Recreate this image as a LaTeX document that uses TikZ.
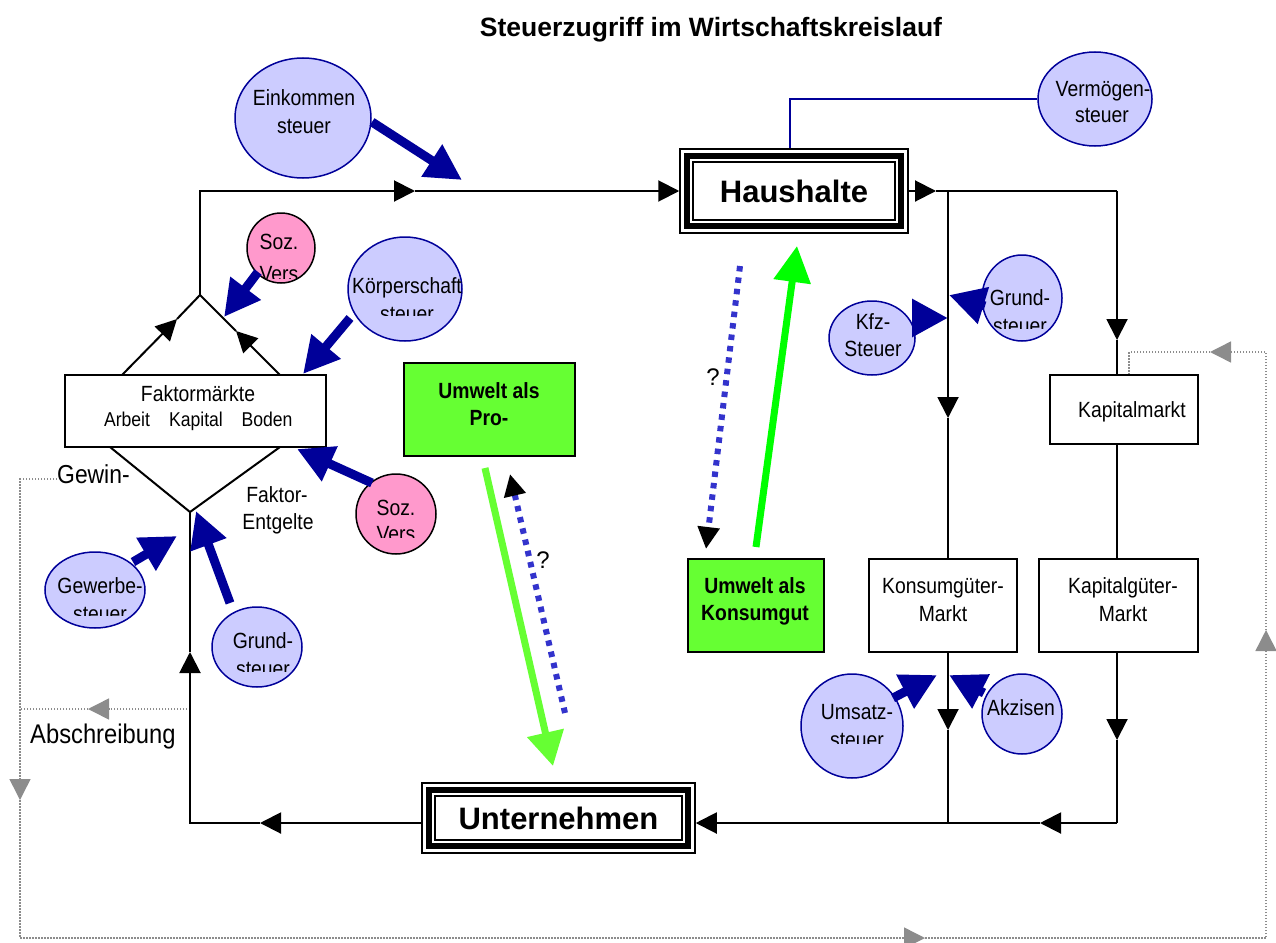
\documentclass[tikz,border=0pt]{standalone}
\usepackage{fontspec}
\setmainfont{Liberation Sans}
\newfontfamily\nar[FakeStretch=0.88]{Liberation Sans}
\usetikzlibrary{shapes.geometric,arrows.meta,calc}
\definecolor{navy}{HTML}{000099}
\definecolor{lav}{HTML}{CCCCFF}
\definecolor{pinkc}{HTML}{FF99CC}
\definecolor{lgreen}{HTML}{66FF33}
\definecolor{bgreen}{HTML}{00FF00}
\definecolor{dblue}{HTML}{3333CC}
\definecolor{dgray}{HTML}{8C8C8C}
\begin{document}
\begin{tikzpicture}[x=1pt,y=-1pt,
  flow/.style={line width=2pt, draw=black},
  tipb/.style={-{Triangle[length=21pt,width=21pt]}},
  taxc/.style={ellipse, draw=navy, fill=lav, line width=1.5pt, inner sep=0pt},
  pinkcirc/.style={ellipse, draw=black, fill=pinkc, line width=1.5pt, inner sep=0pt},
  taxarr/.style={draw=navy, line width=9pt, -{Triangle[length=36pt,width=36pt]}},
  lab/.style={anchor=base, inner sep=0pt, font=\nar\fontsize{22}{26}\selectfont},
  blab/.style={anchor=base, inner sep=0pt, font=\nar\bfseries\fontsize{22}{26}\selectfont},
  wbox/.style={draw=black, line width=1.5pt, fill=white, inner sep=0pt},
  gbox/.style={draw=black, line width=2pt, fill=lgreen, inner sep=0pt},
  gdot/.style={draw=dgray, line width=1.5pt, dash pattern=on 1.5pt off 1.5pt},
  gtip/.style={-{Triangle[length=21pt,width=21pt]}},
  bdot/.style={draw=dblue, line width=6pt, dash pattern=on 5.5pt off 6pt, -{Triangle[length=22pt,width=21pt,color=black]}},
  bigbox/.style={draw=black, line width=1.5pt, fill=white, inner sep=0pt, font=\bfseries\fontsize{31}{36}\selectfont}
]
\useasboundingbox (0,0) rectangle (1276,942);

% title
\node[anchor=base, inner sep=0pt, font=\bfseries\fontsize{26.5}{30}\selectfont] (title) at (711,37) {Steuerzugriff im Wirtschaftskreislauf};

% ---------- gray dotted flows ----------
\coordinate (g0) at (57,479);
\coordinate (g1) at (20,479);
\coordinate (g2) at (20,800);
\coordinate (g3) at (20,938);
\coordinate (g4) at (925,938);
\coordinate (g5) at (1266,938);
\coordinate (g6) at (1266,630);
\coordinate (g7) at (1266,352);
\coordinate (g8) at (1210,352);
\coordinate (g9) at (1129,352);
\coordinate (h0) at (190,709);
\coordinate (h1) at (88,709);
\coordinate (h2) at (20,709);

% ---------- main boxes ----------
\node[bigbox, minimum width=228pt, minimum height=84pt] (hh) at (794,191) {Haushalte};
\draw[line width=6pt] ($(hh.north west)+(7.5,7.5)$) rectangle ($(hh.south east)+(-7.5,-7.5)$);
\draw[line width=2pt] ($(hh.north west)+(14,14)$) rectangle ($(hh.south east)+(-14,-14)$);

\node[bigbox, minimum width=273pt, minimum height=70pt] (un) at (558.5,818) {Unternehmen};
\draw[line width=6pt] ($(un.north west)+(7.5,7.5)$) rectangle ($(un.south east)+(-7.5,-7.5)$);
\draw[line width=2pt] ($(un.north west)+(14,14)$) rectangle ($(un.south east)+(-14,-14)$);

\node[wbox, minimum width=261pt, minimum height=72pt] (fm) at (195.5,411) {};
\node[lab] (fm-1) at (198,401) {Faktormärkte};
\node[lab, font=\nar\fontsize{20}{24}\selectfont] (fm-2) at (127,426) {Arbeit};
\node[lab, font=\nar\fontsize{20}{24}\selectfont] (fm-3) at (196,426) {Kapital};
\node[lab, font=\nar\fontsize{20}{24}\selectfont] (fm-4) at (267,426) {Boden};

\node[wbox, minimum width=148pt, minimum height=69pt] (km) at (1124,409.5) {};
\node[lab] (km-1) at (1132,417) {Kapitalmarkt};

\node[wbox, minimum width=148pt, minimum height=93pt] (kgm) at (943,605.5) {};
\node[lab] (kgm-1) at (943,593) {Konsumgüter-};
\node[lab] (kgm-2) at (943,621) {Markt};

\node[wbox, minimum width=159pt, minimum height=93pt] (kg) at (1118.5,605.5) {};
\node[lab] (kg-1) at (1123,593) {Kapitalgüter-};
\node[lab] (kg-2) at (1123,621) {Markt};

\node[gbox, minimum width=171pt, minimum height=93pt] (up) at (489.5,409.5) {};
\node[blab] (up-1) at (489,398) {Umwelt als};
\node[blab] (up-2) at (489,425) {Pro-};

\node[gbox, minimum width=136pt, minimum height=93pt] (uk) at (756,605.5) {};
\node[blab] (uk-1) at (755,593) {Umwelt als};
\node[blab] (uk-2) at (755,620) {Konsumgut};

% ---------- gray dotted lines ----------
\draw[gdot, gtip] (g0) -- (g1) -- (g2);
\draw[gdot, gtip] (g2) -- (g3) -- (g4);
\draw[gdot, gtip] (g4) -- (g5) -- (g6);
\draw[gdot, gtip] (g6) -- (g7) -- (g8);
\draw[gdot] (g8) -- (g9) -- (g9 |- km.north);
\draw[gdot, gtip] (h0) -- (h1);
\draw[gdot] (h1) -- (h2);

% ---------- black flow ----------
\coordinate (apex) at (200,295);
\coordinate (tl) at (200,191);
\coordinate (a1) at (415,191);
\draw[flow, tipb] (apex) -- (tl) -- (a1);
\draw[flow, tipb] (a1) -- (hh.west);

\coordinate (a2) at (936,191);
\coordinate (j1) at (948,191);
\coordinate (j2) at (1117,191);
\draw[flow, tipb] (hh.east) -- (a2);
\draw[flow] (a2) -- (j2);
\coordinate (a3) at (948,418);
\draw[flow, tipb] (j1) -- (a3);
\draw[flow] (a3) -- (j1 |- kgm.north);
\coordinate (a4) at (948,730);
\coordinate (b1) at (948,823);
\draw[flow, tipb] (j1 |- kgm.south) -- (a4);
\draw[flow] (a4) -- (b1);
\coordinate (a5) at (1117,340);
\draw[flow, tipb] (j2) -- (a5);
\draw[flow] (a5) -- (j2 |- km.north);
\draw[flow] (j2 |- km.south) -- (j2 |- kg.north);
\coordinate (a6) at (1117,740);
\coordinate (b2) at (1117,823);
\draw[flow, tipb] (j2 |- kg.south) -- (a6);
\draw[flow] (a6) -- (b2);
\coordinate (a7) at (1040,823);
\draw[flow, tipb] (b2) -- (a7);
\draw[flow, tipb] (a7) -- (un.east |- b2);
\coordinate (a8) at (260,823);
\coordinate (bl) at (190,823);
\coordinate (a9) at (190,652);
\coordinate (dbot) at (190,512);
\draw[flow, tipb] (un.west |- b2) -- (a8);
\draw[flow, tipb] (a8) -- (bl) -- (a9);
\draw[flow] (a9) -- (dbot);

% diamond
\coordinate (ll) at (110,447);
\coordinate (lr) at (280,447);
\draw[flow] (ll) -- (dbot) -- (lr);
\coordinate (ul) at (122,375);
\coordinate (ur) at (280,375);
\coordinate (m1) at (177,319);
\coordinate (m2) at (236,331);
\draw[flow, tipb] (ul) -- (m1);
\draw[flow] (m1) -- (apex);
\draw[flow, tipb] (ur) -- (m2);
\draw[flow] (m2) -- (apex);

% labels
\node[lab, anchor=base west, font=\nar\fontsize{26}{30}\selectfont] (gewin) at (57,483) {Gewin-};
\node[lab] (fe-1) at (277,502) {Faktor-};
\node[lab] (fe-2) at (278,529) {Entgelte};
\node[lab, anchor=base west, font=\nar\fontsize{27}{30}\selectfont] (absch) at (30,743) {Abschreibung};

% ---------- tax circles ----------
\node[taxc, minimum width=136pt, minimum height=120pt] (ek) at (303,118) {};
\node[lab] (ek-1) at (304,105) {Einkommen};
\node[lab] (ek-2) at (304,133) {steuer};

\node[taxc, minimum width=114pt, minimum height=94pt] (vs) at (1095,99) {};
\node[lab] (vs-1) at (1103,96) {Vermögen-};
\node[lab] (vs-2) at (1102,122) {steuer};
\coordinate (vc) at (790,99);
\draw[navy, line width=2pt] (vs.west) -- (vc) -- (vc |- hh.north);

\node[pinkcirc, minimum width=68pt, minimum height=70pt] (sz1) at (281,248) {};
\node[lab] (sz1-1) at (279,249) {Soz.};
\begin{scope}
\clip (220,250) rectangle (340,278);
\node[lab] (sz1-2) at (279,281) {Vers};
\end{scope}

\node[taxc, minimum width=114pt, minimum height=104pt] (ks) at (405,289) {};
\node[lab] (ks-1) at (407,293) {Körperschaft};
\begin{scope}
\clip (330,295) rectangle (480,315);
\node[lab] (ks-2) at (407,321) {steuer};
\end{scope}

\node[pinkcirc, minimum width=80pt, minimum height=80pt] (sz2) at (396,514) {};
\node[lab] (sz2-1) at (396,515) {Soz.};
\begin{scope}
\clip (340,517) rectangle (450,537);
\node[lab] (sz2-2) at (396,541) {Vers};
\end{scope}

\node[taxc, minimum width=100pt, minimum height=76pt] (gw) at (95,590) {};
\node[lab] (gw-1) at (100,593) {Gewerbe-};
\begin{scope}
\clip (40,595) rectangle (160,615);
\node[lab] (gw-2) at (100,621) {steuer};
\end{scope}

\node[taxc, minimum width=90pt, minimum height=80pt] (gl) at (257,647) {};
\node[lab] (gl-1) at (263,648) {Grund-};
\begin{scope}
\clip (200,650) rectangle (320,671);
\node[lab] (gl-2) at (263,676) {steuer};
\end{scope}

\node[taxc, minimum width=86pt, minimum height=74pt] (kfz) at (872,338) {};
\node[lab] (kfz-1) at (873,329) {Kfz-};
\node[lab] (kfz-2) at (873,356) {Steuer};

\node[taxc, minimum width=80pt, minimum height=86pt] (gr) at (1022,298) {};
\node[lab] (gr-1) at (1020,305) {Grund-};
\begin{scope}
\clip (960,307) rectangle (1080,328);
\node[lab] (gr-2) at (1020,333) {steuer};
\end{scope}

\node[taxc, minimum width=102pt, minimum height=104pt] (us) at (852,726) {};
\node[lab] (us-1) at (857,719) {Umsatz-};
\begin{scope}
\clip (790,721) rectangle (920,743);
\node[lab] (us-2) at (857,747) {steuer};
\end{scope}

\node[taxc, minimum width=80pt, minimum height=80pt] (ak) at (1022,714) {};
\node[lab] (ak-1) at (1021,715) {Akzisen};

% ---------- tax arrows ----------
\coordinate (t1s) at (372,122); \coordinate (t1e) at (462,180);
\coordinate (t2s) at (258,272); \coordinate (t2e) at (224,317);
\coordinate (t3s) at (350,318); \coordinate (t3e) at (303,374);
\coordinate (t4s) at (372,483); \coordinate (t4e) at (297,449);
\coordinate (t5s) at (133,562); \coordinate (t5e) at (177,536);
\coordinate (t6s) at (230,603); \coordinate (t6e) at (196,511);
\coordinate (t7s) at (913,318); \coordinate (t7e) at (948,318);
\coordinate (t8s) at (985,306); \coordinate (t8e) at (949,295);
\coordinate (t9s) at (893,698); \coordinate (t9e) at (937,675);
\coordinate (t10s) at (984,693); \coordinate (t10e) at (949,675);
\foreach \i in {1,...,10} {\draw[taxarr] (t\i s) -- (t\i e);}

% ---------- environment arrows ----------
\coordinate (p1) at (485,468); \coordinate (p2) at (553,766);
\draw[lgreen, line width=7pt, -{Triangle[length=34pt,width=36pt]}] (p1) -- (p2);
\coordinate (k1) at (756,547); \coordinate (k2) at (797,246);
\draw[bgreen, line width=7pt, -{Triangle[length=36pt,width=36pt]}] (k1) -- (k2);
\coordinate (d1) at (565,713); \coordinate (d2) at (510,474);
\draw[bdot] (d1) -- (d2);
\coordinate (d3) at (740,266); \coordinate (d4) at (706,549);
\draw[bdot] (d3) -- (d4);
\node[lab, font=\fontsize{24}{28}\selectfont] (q1) at (713,385) {?};
\node[lab, font=\fontsize{24}{28}\selectfont] (q2) at (543,568) {?};

\end{tikzpicture}
\end{document}
